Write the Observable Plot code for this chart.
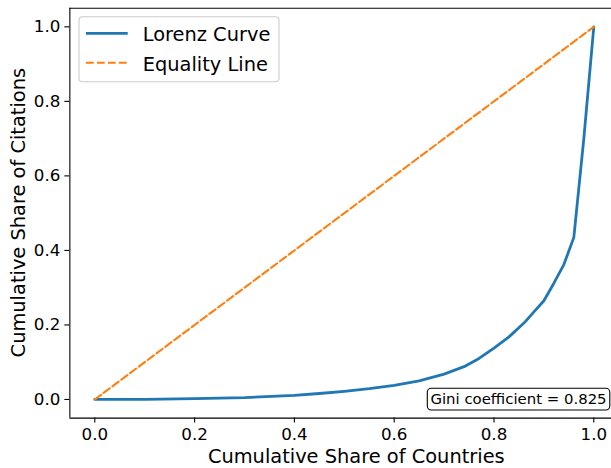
<!DOCTYPE html>
<html>
<head>
<meta charset="utf-8">
<script src="https://cdn.jsdelivr.net/npm/d3@7"></script>
<script src="https://cdn.jsdelivr.net/npm/@observablehq/plot@0.6"></script>
<style>
  html, body { margin: 0; padding: 0; background: white; }
  #chart { width: 611px; height: 468px; }
</style>
</head>
<body>
<div id="chart"></div>
<script>
// Lorenz curve
const shareCountries = [0, 0.1, 0.2, 0.3, 0.4, 0.45, 0.5, 0.55, 0.6, 0.65, 0.7, 0.74, 0.77, 0.8, 0.83, 0.86, 0.88, 0.9, 0.92, 0.94, 0.96, 0.98, 1.0];
const shareCitations = [0, 0.0005, 0.002, 0.005, 0.011, 0.016, 0.022, 0.029, 0.038, 0.050, 0.068, 0.088, 0.110, 0.138, 0.168, 0.205, 0.235, 0.265, 0.312, 0.362, 0.435, 0.70, 1.0];
// Equality line
const equalityX = [0, 1];
const equalityY = [0, 1];
// Ticks
const xTicks = [0, 0.2, 0.4, 0.6, 0.8, 1.0];
const yTicks = [0, 0.2, 0.4, 0.6, 0.8, 1.0];
// Texts
const xLabel = "Cumulative Share of Countries";
const yLabel = "Cumulative Share of Citations";
const seriesNames = ["Lorenz Curve", "Equality Line"];
const giniText = "Gini coefficient = 0.825";

(function () {
const lorenz = shareCountries.map((x, i) => ({x, y: shareCitations[i]}));
const equality = equalityX.map((x, i) => ({x, y: equalityY[i]}));

const W = 611, H = 468;
const mL = 69.35, mR = 0, mT = 7.7, mB = 50.4;
const xDom = [-0.05, (W - 94.3) / 499];
const yDom = [-0.05, 1.05];
const blue = "#1f77b4", orange = "#ff7f0e";
const font = "DejaVu Sans, Liberation Sans, sans-serif";

const plot = Plot.plot({
  width: W, height: H,
  marginLeft: mL, marginRight: mR, marginTop: mT, marginBottom: mB,
  style: {fontFamily: font, fontSize: "16.7px", color: "black", background: "white", overflow: "visible"},
  x: {domain: xDom, axis: null},
  y: {domain: yDom, axis: null},
  marks: [
    Plot.axisX({ticks: xTicks, tickFormat: d3.format(".1f"), tickSize: 5, tickPadding: 5, strokeWidth: 1.1, label: null, fontSize: 16.7}),
    Plot.axisY({ticks: yTicks, tickFormat: d3.format(".1f"), tickSize: 5, tickPadding: 4.5, strokeWidth: 1.1, label: null, fontSize: 16.7}),
    Plot.ruleX([xDom[0]], {stroke: "black", strokeWidth: 1.1}),
    Plot.ruleY([yDom[0]], {stroke: "black", strokeWidth: 1.1}),
    Plot.ruleY([yDom[1]], {stroke: "black", strokeWidth: 1.1}),
    Plot.line(lorenz, {x: "x", y: "y", stroke: blue, strokeWidth: 2.78, strokeLinejoin: "round"}),
    Plot.line(equality, {x: "x", y: "y", stroke: orange, strokeWidth: 2.08, strokeDasharray: "7.7,3.3"})
  ]
});

const svg = d3.select(plot);
const sx = plot.scale("x"), sy = plot.scale("y");
const axLeft = sx.apply(xDom[0]);
const axTop = sy.apply(yDom[1]), axBottom = sy.apply(yDom[0]);
const axRight = sx.apply(0) + (sx.apply(1) - sx.apply(0)) * 1.1;

// Axis labels
svg.append("text").attr("x", (axLeft + axRight) / 2).attr("y", 463)
  .attr("text-anchor", "middle").attr("font-size", "19.4px").attr("fill", "black")
  .attr("font-family", font).text(xLabel);
svg.append("text").attr("transform", `translate(25,${(axTop + axBottom) / 2}) rotate(-90)`)
  .attr("text-anchor", "middle").attr("font-size", "19.4px").attr("fill", "black")
  .attr("font-family", font).text(yLabel);

// Legend
const lg = svg.append("g");
lg.append("rect").attr("x", 79).attr("y", 16.7).attr("width", 200).attr("height", 65)
  .attr("rx", 3.5).attr("fill", "white").attr("fill-opacity", 0.8)
  .attr("stroke", "#cccccc").attr("stroke-width", 1.1);
const legendRows = [
  {name: seriesNames[0], color: blue, w: 2.78, dash: null, y: 33.3},
  {name: seriesNames[1], color: orange, w: 2.08, dash: "7.7,3.3", y: 62.7}
];
for (const r of legendRows) {
  const ln = lg.append("line").attr("x1", 86).attr("x2", 127.7).attr("y1", r.y).attr("y2", r.y)
    .attr("stroke", r.color).attr("stroke-width", r.w);
  if (r.dash) ln.attr("stroke-dasharray", r.dash);
  lg.append("text").attr("x", 142.7).attr("y", r.y + 8).attr("font-size", "19.4px")
    .attr("text-anchor", "start")
    .attr("fill", "black").attr("font-family", font).text(r.name);
}

// Gini annotation box
const gg = svg.append("g");
gg.append("rect").attr("x", 427.3).attr("y", 388.3).attr("width", 182.5).attr("height", 21.7)
  .attr("rx", 4).attr("fill", "white").attr("stroke", "black").attr("stroke-width", 1.1);
gg.append("text").attr("x", 518.5).attr("y", 404.2).attr("text-anchor", "middle")
  .attr("font-size", "14.9px").attr("fill", "black").attr("font-family", font).text(giniText);

document.getElementById("chart").appendChild(plot);
})();
</script>
</body>
</html>
